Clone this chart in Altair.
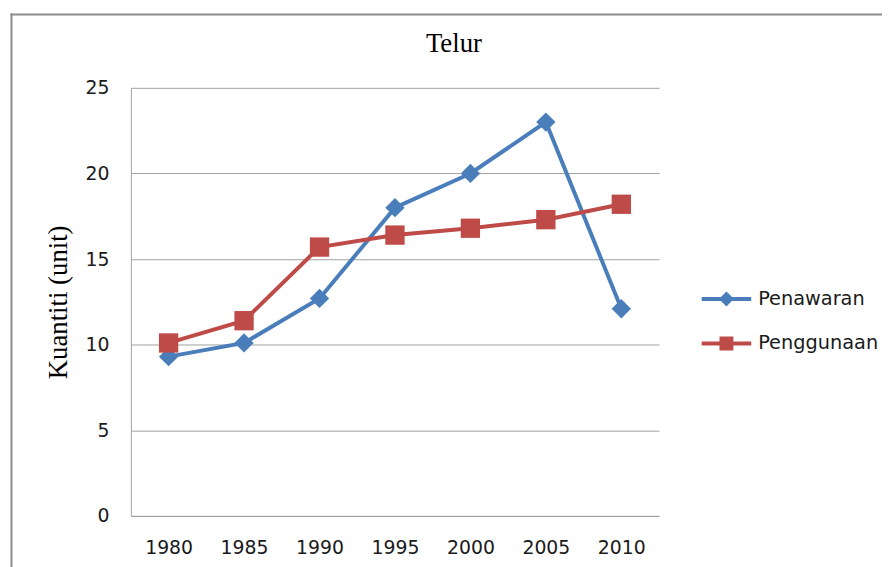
import altair as alt
import pandas as pd

# ---- data ----
years = ["1980", "1985", "1990", "1995", "2000", "2005", "2010"]
penawaran = [9.3, 10.1, 12.7, 18.0, 20.0, 23.0, 12.1]
penggunaan = [10.1, 11.4, 15.7, 16.4, 16.8, 17.3, 18.2]
series = ["Penawaran", "Penggunaan"]
colors = ["#4A7EBB", "#BE4B48"]
y_ticks = [0, 5, 10, 15, 20, 25]
chart_title = "Telur"
y_title = "Kuantiti (unit)"

df = pd.DataFrame({
    "Tahun": years * 2,
    "Kuantiti": penawaran + penggunaan,
    "Siri": [series[0]] * len(years) + [series[1]] * len(years),
})

W, H = 533, 432
GRID = "#a0a0a0"
SANS = "DejaVu Sans"
SERIF = "Liberation Serif"

x_enc = alt.X("Tahun:O", sort=years,
              scale=alt.Scale(type="point", padding=0.5),
              axis=alt.Axis(title=None, labelAngle=0, ticks=False, tickSize=0,
                            labelPadding=23, labelFont=SANS, labelFontSize=19,
                            labelColor="#1a1a1a", domainColor=GRID, grid=False))
y_enc = alt.Y("Kuantiti:Q", scale=alt.Scale(domain=[0, 25], nice=False),
              axis=alt.Axis(title=y_title, values=y_ticks, ticks=False, tickSize=0,
                            labelPadding=22, labelFont=SANS, labelFontSize=19,
                            labelColor="#1a1a1a", domainColor=GRID,
                            gridColor=GRID, titleFont=SERIF, titleFontSize=27,
                            titleFontWeight="normal", titleColor="#000000",
                            titlePadding=13))

DIAMOND_LEG = "M-1,0H1M0,-0.19L0.19,0L0,0.19L-0.19,0Z"
SQUARE_LEG = "M-1,0H1M-0.2,-0.2H0.2V0.2H-0.2Z"


def series_legend(i, shape_path, y):
    return alt.Legend(title=None, orient="none", legendX=574, legendY=y,
                      symbolType=shape_path, symbolSize=2500, symbolStrokeWidth=4,
                      symbolFillColor=colors[i], symbolStrokeColor=colors[i],
                      labelFont=SANS, labelFontSize=19.5, labelColor="#1a1a1a",
                      labelOffset=5, padding=0)


line_a = alt.Chart(df).transform_filter(
    alt.datum.Siri == series[0]).mark_line(strokeWidth=4).encode(
    x=x_enc, y=y_enc,
    color=alt.Color("Siri:N", scale=alt.Scale(domain=[series[0]], range=[colors[0]]),
                    legend=series_legend(0, DIAMOND_LEG, 186)))

line_b = alt.Chart(df).transform_filter(
    alt.datum.Siri == series[1]).mark_line(strokeWidth=4).encode(
    x=x_enc, y=y_enc,
    stroke=alt.Stroke("Siri:N", scale=alt.Scale(domain=[series[1]], range=[colors[1]]),
                      legend=series_legend(1, SQUARE_LEG, 231)))

points = alt.Chart(df).mark_point(filled=True, opacity=1, size=380).encode(
    x=x_enc, y=y_enc,
    fill=alt.Fill("Siri:N", sort=series,
                  scale=alt.Scale(domain=series, range=colors), legend=None),
    shape=alt.Shape("Siri:N", sort=series,
                    scale=alt.Scale(domain=series, range=["diamond", "square"]),
                    legend=None))

frame_df = pd.DataFrame({"f": [0]})
frame_left = alt.Chart(frame_df).mark_rule(color="#8c8c8c", strokeWidth=2).encode(
    x=alt.value(-120.5), y=alt.value(-75), y2=alt.value(H + 80))
frame_top = alt.Chart(frame_df).mark_rule(color="#8c8c8c", strokeWidth=2).encode(
    x=alt.value(-121.5), x2=alt.value(W + 240), y=alt.value(-74))

chart = alt.layer(frame_left, frame_top, line_a, line_b, points).resolve_scale(
    color="independent", stroke="independent", fill="independent"
).properties(
    width=W, height=H,
    autosize=alt.AutoSizeParams(type="none"),
    padding={"left": 124, "top": 78, "right": 225, "bottom": 49},
    title=alt.TitleParams(chart_title, font=SERIF, fontSize=27, fontWeight="normal",
                          color="#000000", anchor="middle", frame="group",
                          baseline="alphabetic", offset=0, dx=59.5, dy=67),
).configure_view(stroke=None).configure_axis(gridWidth=1, domainWidth=1)

chart.save("out.html", embed_options={"renderer": "svg", "actions": False})
